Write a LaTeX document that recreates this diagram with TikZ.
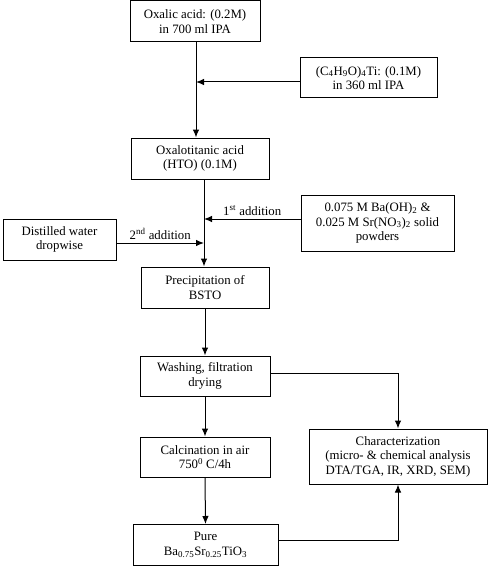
\documentclass[tikz,border=0pt]{standalone}
\usepackage{fontspec}
\setmainfont{Liberation Serif}
\usepackage{tikz}
\usetikzlibrary{arrows.meta}
\tikzset{
    every node/.style={font=\fontsize{12.8}{14.5}\selectfont},
    box/.style={draw=black, line width=1pt, align=center, inner sep=1pt,
        minimum height=41pt},
    flow/.style={-{Latex[length=8pt, width=6.5pt]}, line width=1pt}}

\begin{document}
\begin{tikzpicture}[x=1pt, y=-1pt]
                    \useasboundingbox (0,0) rectangle (489,567);

                    \node[box, minimum width=130pt] (oxalic) at (195,21.5) {Oxalic acid: (0.2M)\\in 700 ml IPA};
                    \node[box, minimum width=137pt, minimum height=40pt] (butox) at (368.5,78) {(C\textsubscript{4}H\textsubscript{9}O)\textsubscript{4}Ti: (0.1M)\\in 360 ml IPA};
                    \node[box, minimum width=138pt] (hto) at (200,158.5) {Oxalotitanic acid\\(HTO) (0.1M)};
                    \node[box, minimum width=153pt, minimum height=56pt] (baoh) at (377.5,223) {0.075 M Ba(OH)\textsubscript{2} \&\\0.025 M Sr(NO\textsubscript{3})\textsubscript{2} solid\\powders};
                    \node[box, minimum width=113pt] (water) at (59.5,239.5) {Distilled water\\dropwise};
                    \node[box, minimum width=128pt] (bsto) at (205,287.5) {Precipitation of\\BSTO};
                    \node[box, minimum width=130pt, minimum height=40pt] (wash) at (205,376) {Washing, filtration\\drying};
                    \node[box, minimum width=130pt, minimum height=40pt] (calc) at (205,457) {Calcination in air\\750\textsuperscript{0} C/4h};
                    \node[box, minimum width=145pt] (pure) at (205.5,545) {Pure\\Ba\textsubscript{0.75}Sr\textsubscript{0.25}TiO\textsubscript{3}};
                    \node[box, minimum width=178pt, minimum height=55pt] (char) at (398,456.5) {Characterization\\(micro- \& chemical analysis\\DTA/TGA, IR, XRD, SEM)};

                    \coordinate (join1) at (196,82);
                    \coordinate (join2) at (204,219);
                    \coordinate (join3) at (204,243);

                    \draw[flow] (oxalic.south -| join1) -- (hto.north -| join1);
                    \draw[flow] (butox.west |- join1) -- (join1);
                    \draw[flow] (hto.south -| join2) -- (bsto.north -| join2);
                    \draw[flow] (baoh.west |- join2) -- (join2) node[midway, above] {1\textsuperscript{st} addition};
                    \draw[flow] (water.east |- join3) -- (join3) node[midway, above] {2\textsuperscript{nd} addition};
                    \draw[flow] (bsto.south) -- (wash.north);
                    \draw[flow] (wash.south) -- (calc.north);
                    \draw[flow] (calc.south) -- (pure.north);
                    \draw[flow] ([yshift=3pt]wash.east) -| (char.north);
                    \draw[flow] ([yshift=5pt]pure.east) -| (char.south);

\end{tikzpicture}
\end{document}
